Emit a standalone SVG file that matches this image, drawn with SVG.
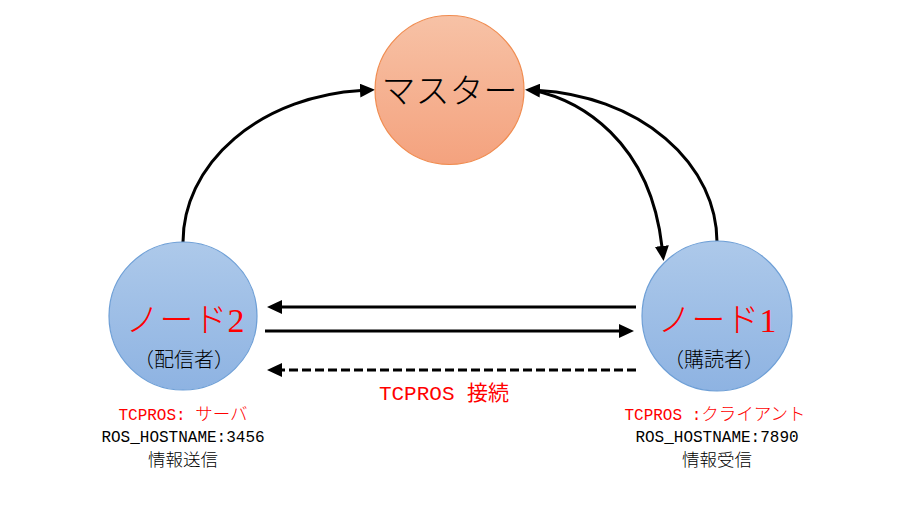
<svg xmlns="http://www.w3.org/2000/svg" width="900" height="514" viewBox="0 0 900 514">
  <style>
    .conn { fill: none; stroke: #000; stroke-width: 3; }
    .dash { stroke-dasharray: 9 4; }
    .big { font-family: "Liberation Serif", "Noto Sans CJK JP", serif; font-size: 34px; font-weight: 300; text-anchor: middle; }
    .sub { font-family: "Liberation Serif", "Noto Sans CJK JP", serif; font-size: 20px; font-weight: 300; text-anchor: middle; fill: #000; }
    .info { font-family: "Liberation Mono", "Noto Sans CJK JP", monospace; font-size: 16px; text-anchor: middle; fill: #000; }
    .cjk { font-family: "Noto Sans CJK JP", sans-serif; font-size: 17.5px; font-weight: 300; }
    .red { fill: #FF0000; }
  </style>
  <defs>
    <linearGradient id="gMaster" x1="0" y1="0" x2="0" y2="1">
      <stop offset="0" stop-color="#F7C2A6"/>
      <stop offset="1" stop-color="#F4A27E"/>
    </linearGradient>
    <linearGradient id="gNode" x1="0" y1="0" x2="0" y2="1">
      <stop offset="0" stop-color="#ADC9EA"/>
      <stop offset="1" stop-color="#8EB3E2"/>
    </linearGradient>
    <marker id="arr" markerUnits="userSpaceOnUse" markerWidth="16" markerHeight="14" refX="1" refY="7" orient="auto">
      <path d="M0,0 L15,7 L0,14 z" fill="#000"/>
    </marker>
  </defs>

  <g id="connectors">
    <path class="conn" d="M183,242 A192,152 0 0 1 361,90.5" marker-end="url(#arr)"/>
    <path class="conn" d="M717,242 A192,152 0 0 0 539,90.5" marker-end="url(#arr)"/>
    <path class="conn" d="M532,90 C580,100 650,140 662,247" marker-end="url(#arr)"/>
    <path class="conn" d="M636,307 L281,307" marker-end="url(#arr)"/>
    <path class="conn" d="M265,331 L620,331" marker-end="url(#arr)"/>
    <path class="conn dash" d="M636,370 L281,370" marker-end="url(#arr)"/>
    <text class="red" x="444" y="400" font-family="Liberation Mono, Noto Sans CJK JP, monospace" font-size="21" text-anchor="middle">TCPROS 接続</text>
  </g>

  <g id="master">
    <circle cx="449.5" cy="90" r="74.5" fill="url(#gMaster)" stroke="#F08C50" stroke-width="1.2"/>
    <text class="big" x="449.5" y="103" fill="#000">マスター</text>
  </g>

  <g id="node2">
    <circle cx="183" cy="316" r="74" fill="url(#gNode)" stroke="#6E9FD6" stroke-width="1.2"/>
    <text class="big red" x="185" y="332">ノード2</text>
    <text class="sub" x="184" y="367">（配信者）</text>
    <text class="info" x="183" y="420"><tspan class="red">TCPROS: </tspan><tspan class="red cjk">サーバ</tspan></text>
    <text class="info" x="183" y="442">ROS_HOSTNAME:3456</text>
    <text class="info cjk" x="183" y="466">情報送信</text>
  </g>

  <g id="node1">
    <circle cx="717" cy="316" r="75" fill="url(#gNode)" stroke="#6E9FD6" stroke-width="1.2"/>
    <text class="big red" x="717" y="332">ノード1</text>
    <text class="sub" x="714" y="367">（購読者）</text>
    <text class="info" x="715" y="420"><tspan class="red">TCPROS :</tspan><tspan class="red cjk">クライアント</tspan></text>
    <text class="info" x="717" y="442">ROS_HOSTNAME:7890</text>
    <text class="info cjk" x="717" y="466">情報受信</text>
  </g>
</svg>
